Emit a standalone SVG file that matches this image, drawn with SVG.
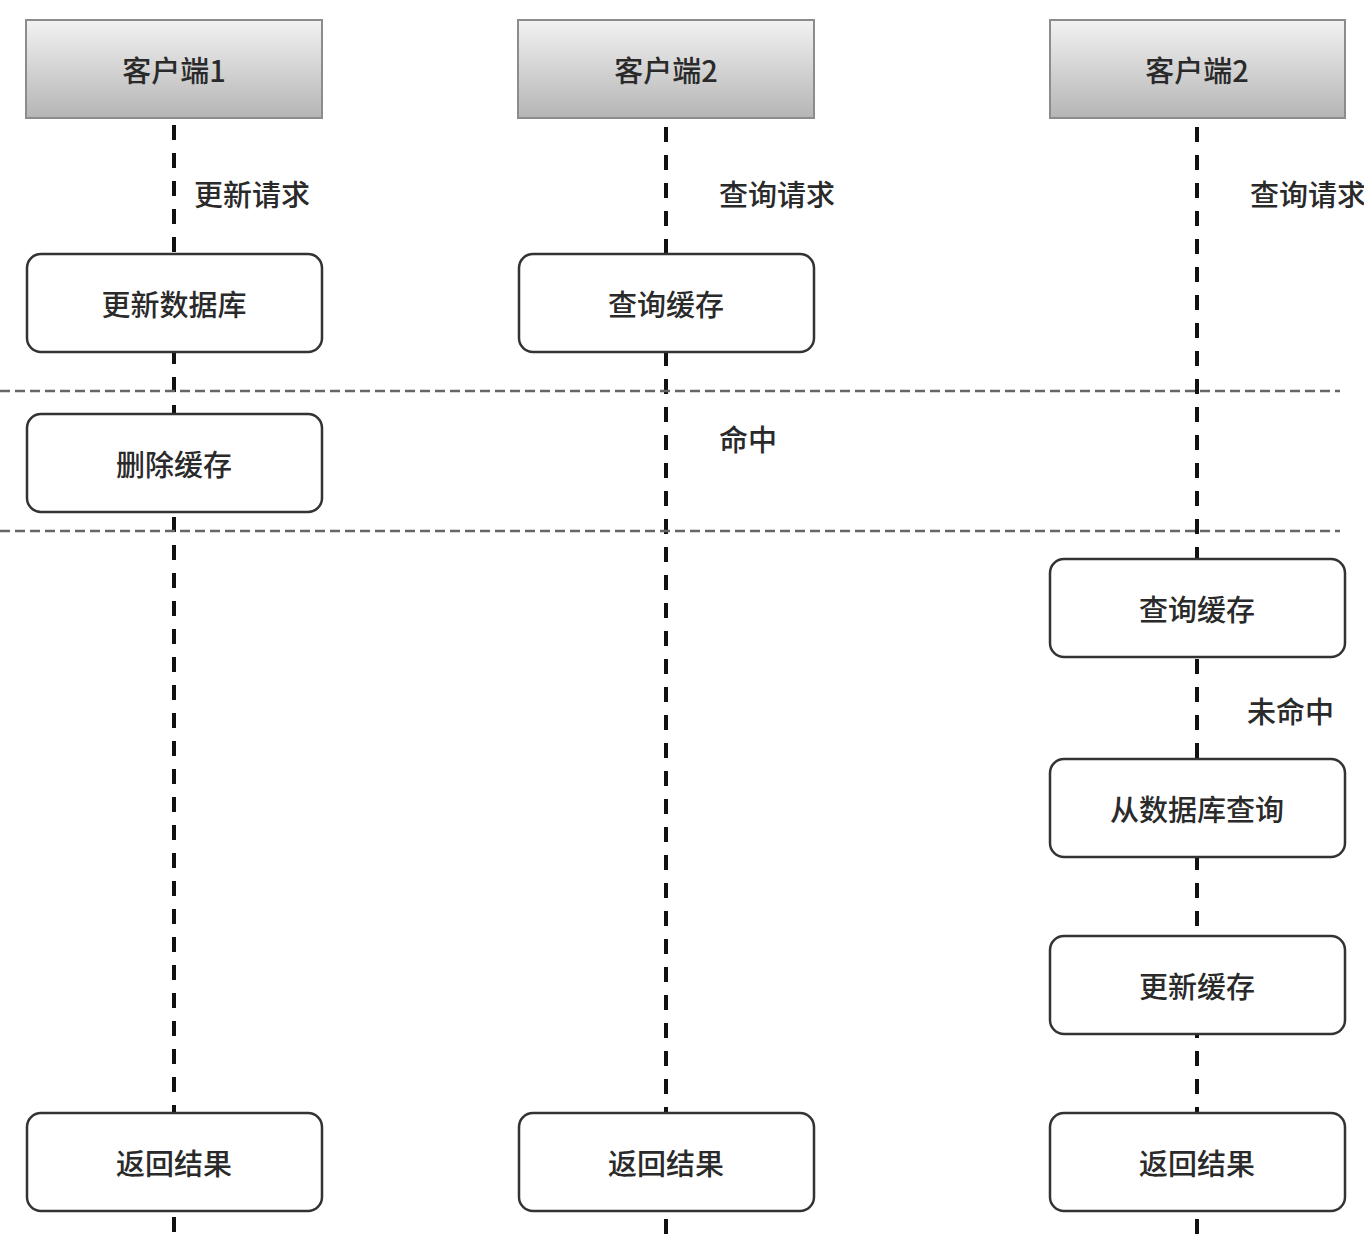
<svg xmlns="http://www.w3.org/2000/svg" width="1364" height="1240" viewBox="0 0 1364 1240">
<style>
text{font-family:"Noto Sans CJK SC","Noto Sans",sans-serif;font-size:29px;font-weight:500;fill:#2a2a2a;dominant-baseline:central}
.c{text-anchor:middle}
.hdr{fill:url(#g);stroke:#8c8c8c;stroke-width:2}
.box{fill:#fff;stroke:#333;stroke-width:2.5}
.life{stroke:#111;stroke-width:4;stroke-dasharray:15 13;fill:none}
.sep{stroke:#666;stroke-width:2.5;stroke-dasharray:10 5;fill:none}
</style>
<defs>
<linearGradient id="g" x1="0" y1="0" x2="0" y2="1">
<stop offset="0" stop-color="#f2f2f2"/>
<stop offset="1" stop-color="#b5b5b5"/>
</linearGradient>
</defs>
<rect width="1364" height="1240" fill="#fff"/>
<g id="connectors">
<line class="life" x1="174" y1="125" x2="174" y2="1240"/>
<line class="life" x1="666" y1="127" x2="666" y2="1240"/>
<line class="life" x1="1197" y1="127" x2="1197" y2="1240"/>
<line class="sep" x1="0" y1="391" x2="1340" y2="391"/>
<line class="sep" x1="0" y1="531" x2="1340" y2="531"/>
</g>
<g id="h1"><rect class="hdr" x="26" y="20" width="296" height="98"/><text class="c" x="174" y="69">客户端1</text></g>
<g id="h2"><rect class="hdr" x="518" y="20" width="296" height="98"/><text class="c" x="666" y="69">客户端2</text></g>
<g id="h3"><rect class="hdr" x="1050" y="20" width="295" height="98"/><text class="c" x="1197" y="69">客户端2</text></g>
<g id="l1"><text x="194" y="193">更新请求</text></g>
<g id="l2"><text x="719" y="193">查询请求</text></g>
<g id="l3"><text x="1250" y="193">查询请求</text></g>
<g id="l4"><text x="719" y="438">命中</text></g>
<g id="l5"><text x="1247" y="710">未命中</text></g>
<g id="n1"><rect class="box" x="27" y="254" width="295" height="98" rx="14"/><text class="c" x="174" y="303">更新数据库</text></g>
<g id="n2"><rect class="box" x="519" y="254" width="295" height="98" rx="14"/><text class="c" x="666" y="303">查询缓存</text></g>
<g id="n3"><rect class="box" x="27" y="414" width="295" height="98" rx="14"/><text class="c" x="174" y="463">删除缓存</text></g>
<g id="n4"><rect class="box" x="1050" y="559" width="295" height="98" rx="14"/><text class="c" x="1197" y="608">查询缓存</text></g>
<g id="n5"><rect class="box" x="1050" y="759" width="295" height="98" rx="14"/><text class="c" x="1197" y="808">从数据库查询</text></g>
<g id="n6"><rect class="box" x="1050" y="936" width="295" height="98" rx="14"/><text class="c" x="1197" y="985">更新缓存</text></g>
<g id="n7"><rect class="box" x="27" y="1113" width="295" height="98" rx="14"/><text class="c" x="174" y="1162">返回结果</text></g>
<g id="n8"><rect class="box" x="519" y="1113" width="295" height="98" rx="14"/><text class="c" x="666" y="1162">返回结果</text></g>
<g id="n9"><rect class="box" x="1050" y="1113" width="295" height="98" rx="14"/><text class="c" x="1197" y="1162">返回结果</text></g>
</svg>
